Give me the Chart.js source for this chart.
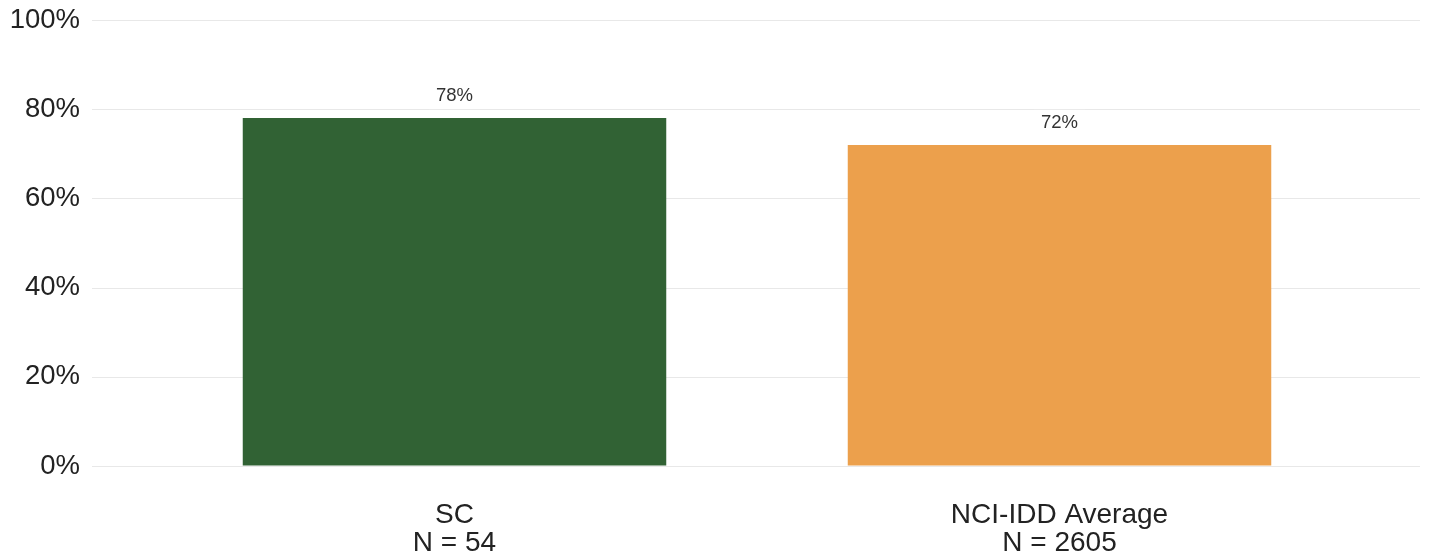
<!DOCTYPE html>
<html>
<head>
<meta charset="utf-8">
<script src="https://cdn.jsdelivr.net/npm/chart.js@4.4.1/dist/chart.umd.min.js"></script>
<style>
  html, body { margin: 0; padding: 0; background: #ffffff; }
  #wrap { width: 1429px; height: 560px; position: relative; }
</style>
</head>
<body>
<div id="wrap"><canvas id="c" width="1429" height="560"></canvas></div>
<script>
const categories = [["SC", "N = 54"], ["NCI-IDD Average", "N = 2605"]];
const values = [78, 72];
const barColors = ["#316234", "#eca04c"];
const yTicks = [0, 20, 40, 60, 80, 100];

const GRID = "#e8e8e8";
const FONT = "'Liberation Sans', Arial, sans-serif";

const gridLines = {
  id: "gridLines",
  beforeDatasetsDraw(chart) {
    const { ctx, chartArea, scales } = chart;
    ctx.save();
    ctx.strokeStyle = GRID;
    ctx.lineWidth = 1;
    yTicks.forEach(v => {
      const y = Math.round(scales.y.getPixelForValue(v)) + 0.5;
      ctx.beginPath();
      ctx.moveTo(chartArea.left - 60, y);
      ctx.lineTo(chartArea.right + 58, y);
      ctx.stroke();
    });
    ctx.restore();
  }
};

const valueLabels = {
  id: "valueLabels",
  afterDatasetsDraw(chart) {
    const { ctx } = chart;
    const meta = chart.getDatasetMeta(0);
    ctx.save();
    ctx.font = "18.5px " + FONT;
    ctx.textAlign = "center";
    ctx.textBaseline = "middle";
    meta.data.forEach((bar, i) => {
      const txt = values[i] + "%";
      const w = ctx.measureText(txt).width;
      const cy = bar.y - 22;
      ctx.fillStyle = "#ffffff";
      ctx.fillRect(bar.x - w / 2 - 7, cy - 13, w + 14, 26);
      ctx.fillStyle = "#333333";
      ctx.fillText(txt, bar.x, cy);
    });
    ctx.restore();
  }
};

new Chart(document.getElementById("c"), {
  type: "bar",
  data: {
    labels: categories,
    datasets: [{
      data: values,
      backgroundColor: barColors,
      borderWidth: 0,
      categoryPercentage: 1.0,
      barPercentage: 0.7
    }]
  },
  options: {
    responsive: false,
    animation: false,
    devicePixelRatio: 1,
    layout: { padding: { left: 0, right: 67, top: 20, bottom: 3 } },
    plugins: { legend: { display: false }, tooltip: { enabled: false } },
    scales: {
      x: {
        afterFit(scale) { scale.height = 91; },
        grid: { display: false, drawTicks: false },
        border: { display: false },
        ticks: {
          color: "#222222",
          padding: 35,
          font: { family: FONT, size: 28, lineHeight: 1.0 },
          maxRotation: 0, autoSkip: false
        }
      },
      y: {
        min: 0, max: 100,
        afterFit(scale) { scale.width = 152; },
        afterBuildTicks(scale) { scale.ticks = yTicks.map(v => ({ value: v })); },
        grid: { display: true, drawOnChartArea: false, drawTicks: true, tickLength: 72, color: "rgba(0,0,0,0)", tickColor: "rgba(0,0,0,0)" },
        border: { display: false },
        ticks: {
          color: "#222222",
          padding: 0,
          font: { family: FONT, size: 27.5 },
          callback: v => v + "%"
        }
      }
    }
  },
  plugins: [gridLines, valueLabels]
});
</script>
</body>
</html>
